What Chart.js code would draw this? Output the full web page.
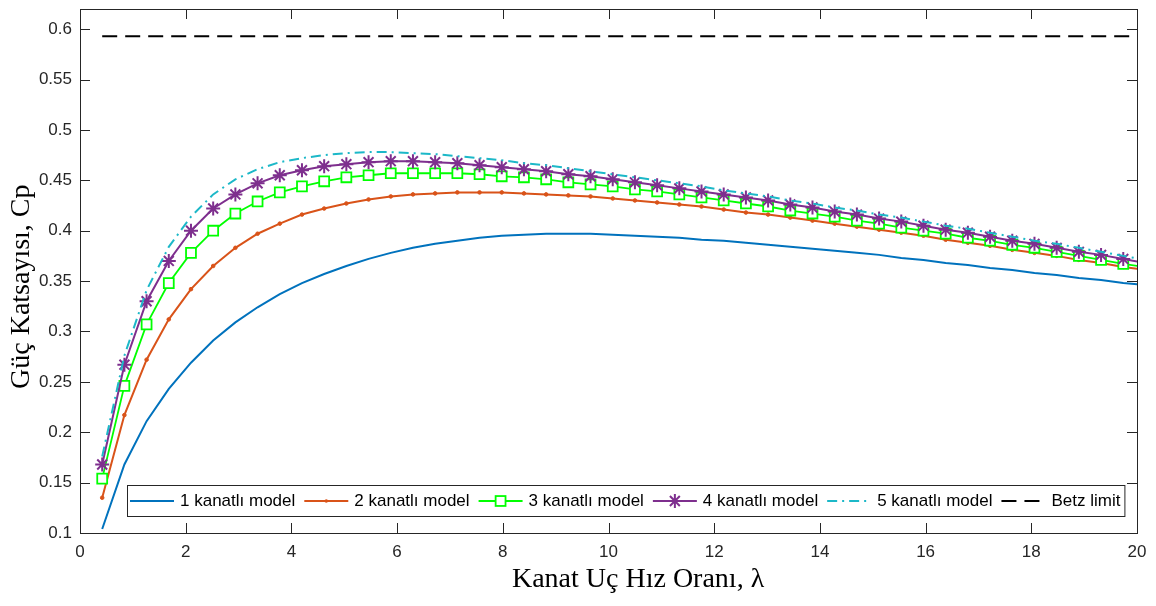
<!DOCTYPE html>
<html>
<head>
<meta charset="utf-8">
<script src="https://cdn.jsdelivr.net/npm/chart.js@4.4.1/dist/chart.umd.min.js"></script>
<style>
  html, body { margin: 0; padding: 0; background: #fff; }
</style>
</head>
<body>
<canvas id="cpChart" width="1156" height="606"></canvas>
<script>
// ----------------------
// DATA
// ----------------------

// tip speed ratio (lambda) values
const lambda = [
  0.42, 0.84, 1.26, 1.68, 2.10, 2.52, 2.94, 3.36, 3.78, 4.20, 4.62, 5.04,
  5.46, 5.88, 6.30, 6.72, 7.14, 7.56, 7.98, 8.40, 8.82, 9.24, 9.66, 10.08,
  10.50, 10.92, 11.34, 11.76, 12.18, 12.60, 13.02, 13.44, 13.86, 14.28, 14.70, 15.12,
  15.54, 15.96, 16.38, 16.80, 17.22, 17.64, 18.06, 18.48, 18.90, 19.32, 19.74, 20.16
];

const cp1 = [
  0.104, 0.168, 0.211, 0.243, 0.269, 0.291, 0.309, 0.324, 0.337, 0.348, 0.357, 0.365,
  0.372, 0.378, 0.383, 0.387, 0.390, 0.393, 0.395, 0.396, 0.397, 0.397, 0.397, 0.396,
  0.395, 0.394, 0.393, 0.391, 0.390, 0.388, 0.386, 0.384, 0.382, 0.380, 0.378, 0.376,
  0.373, 0.371, 0.368, 0.366, 0.363, 0.361, 0.358, 0.356, 0.353, 0.351, 0.348, 0.346
];

const cp2 = [
  0.135, 0.217, 0.272, 0.312, 0.342, 0.365, 0.383, 0.397, 0.407, 0.416, 0.422, 0.427,
  0.431, 0.434, 0.436, 0.437, 0.438, 0.438, 0.438, 0.437, 0.436, 0.435, 0.434, 0.432,
  0.430, 0.428, 0.426, 0.424, 0.421, 0.418, 0.416, 0.413, 0.410, 0.407, 0.404, 0.401,
  0.398, 0.395, 0.391, 0.388, 0.385, 0.381, 0.378, 0.375, 0.371, 0.368, 0.364, 0.361
];

const cp3 = [
  0.154, 0.246, 0.307, 0.348, 0.378, 0.400, 0.417, 0.429, 0.438, 0.444, 0.449, 0.453,
  0.455, 0.457, 0.457, 0.457, 0.457, 0.456, 0.454, 0.453, 0.451, 0.448, 0.446, 0.444,
  0.441, 0.439, 0.436, 0.433, 0.430, 0.427, 0.424, 0.420, 0.417, 0.414, 0.410, 0.407,
  0.403, 0.400, 0.397, 0.393, 0.390, 0.386, 0.383, 0.379, 0.375, 0.371, 0.367, 0.364
];

const cp4 = [
  0.168, 0.267, 0.330, 0.370, 0.400, 0.422, 0.436, 0.447, 0.455, 0.460, 0.464, 0.466,
  0.468, 0.469, 0.469, 0.468, 0.467, 0.465, 0.463, 0.461, 0.459, 0.456, 0.454, 0.451,
  0.448, 0.445, 0.442, 0.439, 0.436, 0.433, 0.430, 0.426, 0.423, 0.419, 0.416, 0.412,
  0.409, 0.405, 0.401, 0.398, 0.394, 0.390, 0.387, 0.383, 0.379, 0.376, 0.372, 0.368
];

const cp5 = [
  0.176, 0.276, 0.341, 0.384, 0.414, 0.436, 0.451, 0.461, 0.468, 0.472, 0.475, 0.477,
  0.478, 0.478, 0.477, 0.476, 0.474, 0.472, 0.470, 0.467, 0.465, 0.462, 0.459, 0.456,
  0.453, 0.450, 0.447, 0.444, 0.440, 0.437, 0.434, 0.430, 0.427, 0.423, 0.420, 0.416,
  0.413, 0.409, 0.405, 0.402, 0.398, 0.394, 0.390, 0.387, 0.383, 0.379, 0.375, 0.371
];

const betzX = [0.42, 20.16];
const betzY = [0.593, 0.593];

const seriesLabels = ['1 kanatlı model', '2 kanatlı model', '3 kanatlı model',
                      '4 kanatlı model', '5 kanatlı model', 'Betz limit'];

const xTicks = [0, 2, 4, 6, 8, 10, 12, 14, 16, 18, 20];
const yTicks = [0.1, 0.15, 0.2, 0.25, 0.3, 0.35, 0.4, 0.45, 0.5, 0.55, 0.6];

const xTitle = 'Kanat Uç Hız Oranı, λ';
const yTitle = 'Güç Katsayısı, Cp';

// ----------------------
// HELPERS
// ----------------------

function toPoints(xs, ys) {
  return xs.map((x, i) => ({ x: x, y: ys[i] }));
}

function drawMarker(ctx, style, x, y, r, color, bw) {
  ctx.save();
  ctx.setLineDash([]);
  ctx.strokeStyle = color;
  ctx.lineWidth = bw;
  if (style === 'circle') {
    ctx.fillStyle = color;
    ctx.beginPath();
    ctx.arc(x, y, r, 0, Math.PI * 2);
    ctx.fill();
  } else if (style === 'rect') {
    const s = r * Math.SQRT1_2;
    ctx.fillStyle = '#fff';
    ctx.fillRect(x - s, y - s, 2 * s, 2 * s);
    ctx.strokeRect(x - s, y - s, 2 * s, 2 * s);
  } else if (style === 'star') {
    const d = r * Math.SQRT1_2;
    ctx.beginPath();
    ctx.moveTo(x - r, y); ctx.lineTo(x + r, y);
    ctx.moveTo(x, y - r); ctx.lineTo(x, y + r);
    ctx.moveTo(x - d, y - d); ctx.lineTo(x + d, y + d);
    ctx.moveTo(x - d, y + d); ctx.lineTo(x + d, y - d);
    ctx.stroke();
  }
  ctx.restore();
}

// legend drawn inside the plot, at the bottom (like MATLAB 'south')
function drawLegend(chart) {
  const { ctx, chartArea: a } = chart;
  const sets = chart.data.datasets;
  const boxLeft = a.left + 47;
  const boxBottom = a.bottom - 17;
  const boxH = 31;
  const sampleLen = 44;
  const gapText = 6;
  const gapItem = 9;
  ctx.save();
  ctx.font = '17px "Liberation Sans", Arial, sans-serif';
  let w = 3;
  sets.forEach(ds => { w += sampleLen + gapText + ctx.measureText(ds.label).width + gapItem; });
  w -= 5;
  const boxTop = boxBottom - boxH;
  ctx.fillStyle = '#fff';
  ctx.fillRect(boxLeft, boxTop, w, boxH);
  ctx.strokeStyle = '#262626';
  ctx.lineWidth = 1;
  ctx.strokeRect(boxLeft + 0.5, boxTop + 0.5, w, boxH);

  const cy = boxTop + boxH / 2 + 0.5;
  let x = boxLeft + 3;
  sets.forEach(ds => {
    ctx.save();
    ctx.strokeStyle = ds.borderColor;
    ctx.lineWidth = ds.borderWidth;
    ctx.setLineDash(ds.borderDash || []);
    ctx.beginPath();
    ctx.moveTo(x, cy);
    ctx.lineTo(x + sampleLen, cy);
    ctx.stroke();
    ctx.restore();
    if (ds.pointRadius > 0) {
      drawMarker(ctx, ds.pointStyle, x + sampleLen / 2, cy, ds.pointRadius, ds.borderColor, ds.pointBorderWidth);
    }
    ctx.fillStyle = '#000';
    ctx.textBaseline = 'middle';
    ctx.fillText(ds.label, x + sampleLen + gapText, cy);
    x += sampleLen + gapText + ctx.measureText(ds.label).width + gapItem;
  });
  ctx.restore();
}

const framePlugin = {
  id: 'frame',
  afterDraw(chart) {
    const { ctx, chartArea: a, scales } = chart;
    ctx.save();
    ctx.strokeStyle = '#262626';
    ctx.lineWidth = 1;
    ctx.strokeRect(a.left + 0.5, a.top + 0.5, a.right - a.left, a.bottom - a.top);
    const tl = 10;
    ctx.beginPath();
    scales.x.ticks.forEach(t => {
      const px = Math.round(scales.x.getPixelForValue(t.value)) + 0.5;
      ctx.moveTo(px, a.bottom); ctx.lineTo(px, a.bottom - tl);
      ctx.moveTo(px, a.top); ctx.lineTo(px, a.top + tl);
    });
    scales.y.ticks.forEach(t => {
      const py = Math.round(scales.y.getPixelForValue(t.value)) + 0.5;
      ctx.moveTo(a.left, py); ctx.lineTo(a.left + tl, py);
      ctx.moveTo(a.right, py); ctx.lineTo(a.right - tl, py);
    });
    ctx.stroke();

    // axis titles (serif, as in the original figure)
    ctx.fillStyle = '#000';
    ctx.textAlign = 'center';
    ctx.textBaseline = 'middle';
    ctx.font = '28px "Liberation Serif", "Times New Roman", serif';
    ctx.fillText(xTitle, a.left + (a.right - a.left) * 0.528, 580);
    ctx.save();
    ctx.translate(22, a.top + (a.bottom - a.top) * 0.53);
    ctx.rotate(-Math.PI / 2);
    ctx.font = '28px "Liberation Serif", "Times New Roman", serif';
    ctx.fillText(yTitle, 0, 0);
    ctx.restore();
    ctx.restore();

    drawLegend(chart);
  }
};

// ----------------------
// CHART
// ----------------------

const tickFont = { family: '"Liberation Sans", Arial, sans-serif', size: 17 };

const ctx = document.getElementById('cpChart').getContext('2d');

new Chart(ctx, {
  type: 'line',
  data: {
    datasets: [
      {
        label: seriesLabels[0],
        data: toPoints(lambda, cp1),
        borderColor: '#0072BD',
        borderWidth: 2,
        pointRadius: 0,
        order: 6
      },
      {
        label: seriesLabels[1],
        data: toPoints(lambda, cp2),
        borderColor: '#D95319',
        backgroundColor: '#D95319',
        borderWidth: 2,
        pointStyle: 'circle',
        pointRadius: 1.8,
        pointBorderWidth: 1,
        pointBackgroundColor: '#D95319',
        order: 5
      },
      {
        label: seriesLabels[2],
        data: toPoints(lambda, cp3),
        borderColor: '#00FF00',
        borderWidth: 1.8,
        pointStyle: 'rect',
        pointRadius: 7,
        pointBorderWidth: 1.8,
        pointBackgroundColor: '#ffffff',
        order: 4
      },
      {
        label: seriesLabels[3],
        data: toPoints(lambda, cp4),
        borderColor: '#7E2F8E',
        borderWidth: 2,
        pointStyle: 'star',
        pointRadius: 7,
        pointBorderWidth: 2,
        order: 3
      },
      {
        label: seriesLabels[4],
        data: toPoints(lambda, cp5),
        borderColor: '#1CB8C8',
        borderWidth: 2,
        borderDash: [10, 5, 2, 5],
        pointRadius: 0,
        order: 2
      },
      {
        label: seriesLabels[5],
        data: toPoints(betzX, betzY),
        borderColor: '#000000',
        borderWidth: 2,
        borderDash: [15, 8],
        pointRadius: 0,
        order: 1
      }
    ]
  },
  options: {
    responsive: false,
    animation: false,
    layout: { padding: { left: 8, right: 19, top: 2, bottom: 11 } },
    plugins: {
      legend: { display: false },
      tooltip: { enabled: false }
    },
    elements: { line: { tension: 0 } },
    scales: {
      x: {
        type: 'linear',
        min: 0,
        max: 20,
        grid: { display: false, drawTicks: false },
        border: { display: false },
        afterBuildTicks: s => { s.ticks = xTicks.map(v => ({ value: v })); },
        afterFit: s => { s.height = 62; s.paddingLeft = 0; s.paddingRight = 0; },
        ticks: {
          font: tickFont,
          color: '#262626',
          padding: 9,
          maxRotation: 0,
          callback: v => String(v)
        }
      },
      y: {
        min: 0.1,
        max: 0.62,
        grid: { display: false, drawTicks: false },
        border: { display: false },
        afterBuildTicks: s => { s.ticks = yTicks.map(v => ({ value: v })); },
        afterFit: s => { s.width = 72; s.paddingTop = 0; s.paddingBottom = 0; },
        ticks: {
          font: tickFont,
          color: '#262626',
          padding: 8,
          callback: v => String(+v.toFixed(2))
        }
      }
    }
  },
  plugins: [framePlugin]
});
</script>
</body>
</html>
